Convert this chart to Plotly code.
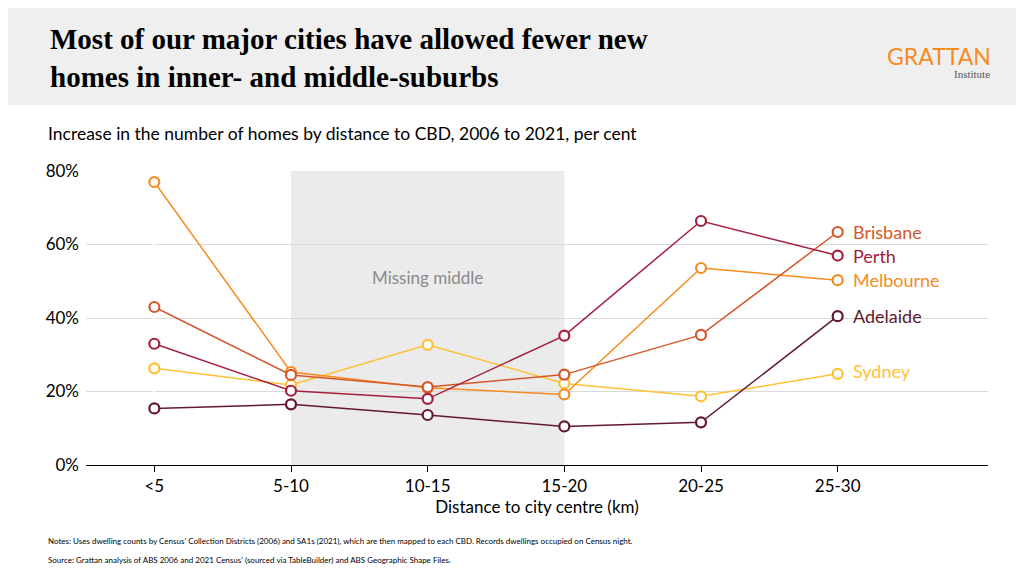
import plotly.graph_objects as go

categories = ["<5", "5-10", "10-15", "15-20", "20-25", "25-30"]
melbourne = [77, 25.3, 21, 19.2, 53.6, 50.3]
brisbane = [43, 24.5, 21.2, 24.6, 35.4, 63.4]
perth = [33, 20.2, 18, 35.2, 66.4, 57]
adelaide = [15.4, 16.5, 13.6, 10.5, 11.6, 40.5]
sydney = [26.3, 21.8, 32.7, 22.2, 18.7, 24.8]
y_ticks = [0, 20, 40, 60, 80]
y_ticklabels = ["0%", "20%", "40%", "60%", "80%"]

series = [
    ("Sydney", sydney, "#FFC035", 25.5),
    ("Adelaide", adelaide, "#621A2E", 40.5),
    ("Melbourne", melbourne, "#F68B1F", 50.3),
    ("Brisbane", brisbane, "#D4582A", 63.4),
    ("Perth", perth, "#A3213E", 57),
]

W, H = 1024, 576
L, R, T, B = 78, 44, 163, 119
ph = H - T - B
pw = W - L - R
def py(p):
    return (H - B - p) / ph
def px(p):
    return (p - L) / pw

fig = go.Figure()
xs = list(range(len(categories)))
fig.add_vrect(x0=1, x1=3, fillcolor="#EBEBEB", line_width=0, layer="below")
for name, vals, col, ly in series:
    fig.add_trace(go.Scatter(x=xs, y=vals, mode="lines+markers", name=name,
                             line=dict(color=col, width=1.5),
                             marker=dict(size=10, color="white", line=dict(color=col, width=2.2)),
                             cliponaxis=False))
    fig.add_annotation(x=5.1, y=ly, text=name, showarrow=False, xanchor="left",
                       font=dict(size=18, color=col, family="Lato"))

fig.add_annotation(x=2, y=51, text="Missing middle", showarrow=False,
                   font=dict(size=17, color="#8A8A8A", family="Lato"))

# header
fig.add_shape(type="rect", xref="paper", yref="paper", x0=px(0), x1=px(W), y0=py(97), y1=py(0),
              fillcolor="#EFEFEF", line_width=0, layer="below")
fig.add_annotation(xref="paper", yref="paper", x=px(40), y=py(50), xanchor="left", yanchor="middle",
                   text="<b>Most of our major cities have allowed fewer new<br>homes in inner- and middle-suburbs</b>",
                   showarrow=False, align="left",
                   font=dict(size=29, color="black", family="Liberation Serif"))
fig.add_annotation(xref="paper", yref="paper", x=px(985), y=py(48), xanchor="right", yanchor="middle",
                   text="GRATTAN", showarrow=False, font=dict(size=23, color="#F68B1F", family="Lato"))
fig.add_annotation(xref="paper", yref="paper", x=px(984), y=py(66), xanchor="right", yanchor="middle",
                   text="Institute", showarrow=False, font=dict(size=11, color="#555", family="Liberation Serif"))
fig.add_annotation(xref="paper", yref="paper", x=px(38), y=py(125), xanchor="left", yanchor="middle",
                   text="Increase in the number of homes by distance to CBD, 2006 to 2021, per cent",
                   showarrow=False, font=dict(size=17.5, color="black", family="Lato"))
fig.add_annotation(xref="paper", yref="paper", x=px(38), y=py(533), xanchor="left", yanchor="middle",
                   text="Notes: Uses dwelling counts by Census' Collection Districts (2006) and SA1s (2021), which are then mapped to each CBD. Records dwellings occupied on Census night.",
                   showarrow=False, font=dict(size=8, color="black", family="Lato"))
fig.add_annotation(xref="paper", yref="paper", x=px(38), y=py(552), xanchor="left", yanchor="middle",
                   text="Source: Grattan analysis of ABS 2006 and 2021 Census' (sourced via TableBuilder) and ABS Geographic Shape Files.",
                   showarrow=False, font=dict(size=8, color="black", family="Lato"))

fig.update_layout(
    width=W, height=H, margin=dict(l=L, r=R, t=T, b=B),
    plot_bgcolor="white", paper_bgcolor="white", showlegend=False,
    font=dict(family="Lato", color="black"),
    xaxis=dict(range=[-0.5, 6.1], tickvals=xs, ticktext=categories, showgrid=False,
               showline=True, linecolor="black", linewidth=1, ticks="outside", ticklen=6,
               tickcolor="black", tickfont=dict(size=17), automargin=False,
               title=dict(text="Distance to city centre (km)", font=dict(size=17), standoff=2)),
    yaxis=dict(range=[0, 80], tickvals=y_ticks, ticktext=y_ticklabels,
               showgrid=True, gridcolor="#D9D9D9", zeroline=False, tickfont=dict(size=17),
               ticklabelstandoff=6, automargin=False),
)
fig.write_html("out.html")
